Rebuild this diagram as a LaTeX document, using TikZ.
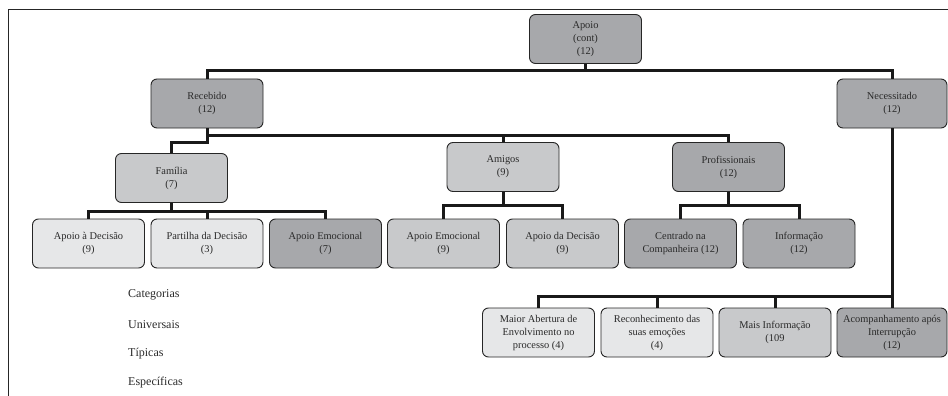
\documentclass[tikz,border=0pt]{standalone}
\usepackage{fontspec}
\setmainfont{Liberation Serif}
\definecolor{cdark}{HTML}{A7A8AB}
\definecolor{cmid}{HTML}{C8C9CB}
\definecolor{clight}{HTML}{E6E7E8}
\definecolor{ctext}{HTML}{2A2A2A}
\tikzset{
  box/.style={rectangle, rounded corners=6pt, draw=black!85, line width=0.9pt,
    minimum width=112pt, minimum height=49pt, inner sep=1pt, align=center,
    text=ctext, font=\fontsize{10.4}{13}\selectfont},
  uni/.style={box, fill=cdark},
  tip/.style={box, fill=cmid},
  esp/.style={box, fill=clight},
  conn/.style={line width=3pt, black!90, line join=miter},
  legend/.style={anchor=west, inner sep=0pt, text=ctext, font=\fontsize{12}{14}\selectfont}
}
\begin{document}
\begin{tikzpicture}[x=1pt, y=-1pt]
\useasboundingbox (0,0) rectangle (948,396);
\draw[line width=1pt, black!85] (8.5,396) -- (8.5,9.5) -- (948,9.5);

\coordinate (c71) at (0,71);
\coordinate (c135) at (0,135);
\coordinate (c142) at (0,142);
\coordinate (c211) at (0,211);
\coordinate (c205) at (0,205);
\coordinate (c296) at (0,296);

% level 0
\node[uni] (apoio) at (585.5,39) {Apoio\\(cont)\\(12)};
% level 1
\node[uni] (rec) at (207,103.5) {Recebido\\(12)};
\node[uni, minimum width=110pt] (nec) at (892,103.5) {Necessitado\\(12)};
% level 2
\node[tip] (fam) at (171.5,178) {Família\\(7)};
\node[tip] (ami) at (503,167) {Amigos\\(9)};
\node[uni] (prof) at (728.5,167) {Profissionais\\(12)};
% level 3
\node[esp] (fa1) at (88.5,243.5) {Apoio à Decisão\\(9)};
\node[esp] (fa2) at (207,243.5) {Partilha da Decisão\\(3)};
\node[uni] (fa3) at (325.5,243.5) {Apoio Emocional\\(7)};
\node[tip] (am1) at (443.5,243.5) {Apoio Emocional\\(9)};
\node[tip] (am2) at (562.5,243.5) {Apoio da Decisão\\(9)};
\node[uni] (pr1) at (680.5,243.5) {Centrado na\\Companheira (12)};
\node[uni] (pr2) at (799,243.5) {Informação\\(12)};
% level 4
\node[esp] (ne1) at (538.5,332.5) {Maior Abertura de\\Envolvimento no\\processo (4)};
\node[esp] (ne2) at (657,332.5) {Reconhecimento das\\suas emoções\\(4)};
\node[tip] (ne3) at (775,332.5) {Mais Informação\\(109};
\node[uni, minimum width=110pt] (ne4) at (892,332.5) {Acompanhamento após\\Interrupção\\(12)};

% legend
\node[legend] (lg1) at (128,295) {Categorias};
\node[legend] (lg2) at (128,325) {Universais};
\node[legend] (lg3) at (128,353.5) {Típicas};
\node[legend] (lg4) at (128,383) {Específicas};

% edges
\draw[conn] (apoio.south) -- (apoio.south |- c71);
\draw[conn] (rec.north) |- (nec.north |- c71) -- (nec.north);

\draw[conn] (rec.south) -- (rec.south |- c135) -| (prof.north);
\draw[conn] (ami.north) -- (ami.north |- c135);
\draw[conn] (rec.south) |- (fam.north |- c142) -- (fam.north);

\draw[conn] (fam.south) -- (fam.south |- c211);
\draw[conn] (fa1.north) |- (fa3.north |- c211) -- (fa3.north);
\draw[conn] (fa2.north) -- (fa2.north |- c211);

\draw[conn] (ami.south) -- (ami.south |- c205);
\draw[conn] (am1.north) |- (am2.north |- c205) -- (am2.north);

\draw[conn] (prof.south) -- (prof.south |- c205);
\draw[conn] (pr1.north) |- (pr2.north |- c205) -- (pr2.north);

\draw[conn] (nec.south) -- (ne4.north);
\draw[conn] (ne1.north) |- (ne4.north |- c296);
\draw[conn] (ne2.north) -- (ne2.north |- c296);
\draw[conn] (ne3.north) -- (ne3.north |- c296);
\end{tikzpicture}
\end{document}
